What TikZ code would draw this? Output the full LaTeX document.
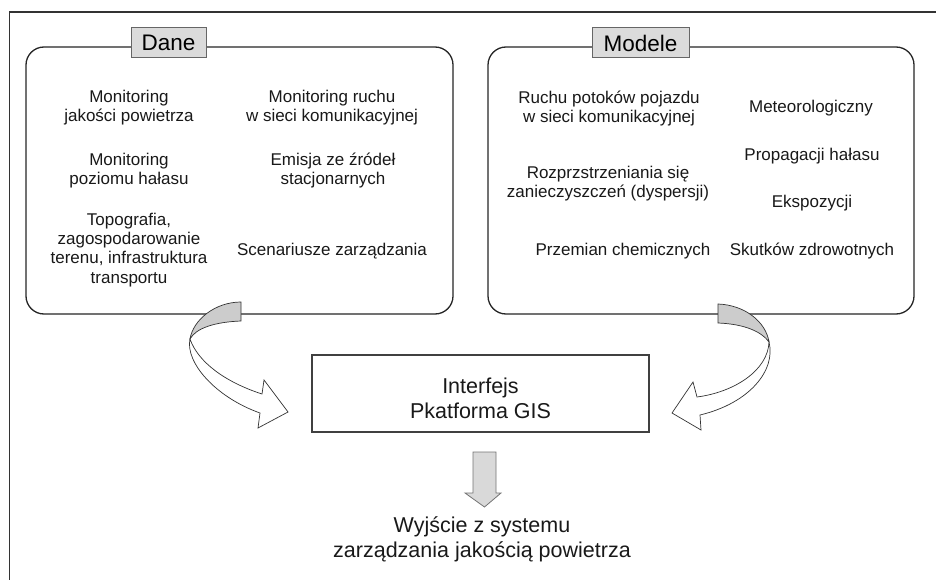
\documentclass[tikz,border=0pt]{standalone}
\usepackage{fontspec}
\setmainfont{Liberation Sans}
\begin{document}
\begin{tikzpicture}[x=1pt,y=-1pt,
  frameline/.style={draw=black!80,line width=1.4pt},
  panel/.style={draw=black!85,line width=1.3pt,rounded corners=18pt,fill=white,inner sep=0pt},
  tag/.style={draw=black!60,line width=1pt,fill=black!14,inner sep=0pt,font=\fontsize{22.5}{25}\selectfont},
  item/.style={align=center,inner sep=0pt,font=\fontsize{17}{19.2}\selectfont,text=black!90},
  big/.style={align=center,inner sep=0pt,font=\fontsize{21.5}{25}\selectfont,text=black!90},
  gisbox/.style={draw=black!75,line width=1.1pt,fill=white,inner sep=0pt,minimum width=337pt,minimum height=77pt},
  twistback/.style={draw=black!80,line width=0.7pt,fill=black!20},
  twistfront/.style={draw=black!80,line width=0.7pt,fill=white},
  downarrow/.style={draw=black!55,line width=0.8pt,fill=black!15}]
\useasboundingbox (0,0) rectangle (936,580);

% open frame: top and left edge only
\draw[frameline] (936,12) -- (9.5,12) -- (9.5,580);

% data panel
\node[panel,minimum width=427pt,minimum height=267pt] (dane) at (239.5,180.5) {};
\node[tag,minimum width=75pt,minimum height=30pt] (danetag) at (168.5,43) {Dane};
\node[item] (d1) at (129,108) {Monitoring\\jakości powietrza};
\node[item] (d2) at (332,108) {Monitoring ruchu\\w sieci komunikacyjnej};
\node[item] (d3) at (129,170.5) {Monitoring\\poziomu hałasu};
\node[item] (d4) at (333,170.5) {Emisja ze źródeł\\stacjonarnych};
\node[item] (d5) at (129,250) {Topografia,\\zagospodarowanie\\terenu, infrastruktura\\transportu};
\node[item] (d6) at (332,251) {Scenariusze zarządzania};

% model panel
\node[panel,minimum width=426pt,minimum height=267pt] (modele) at (701,180.5) {};
\node[tag,minimum width=97pt,minimum height=30pt] (modeletag) at (640.5,43) {Modele};
\node[item] (m1) at (609,108.5) {Ruchu potoków pojazdu\\w sieci komunikacyjnej};
\node[item] (m2) at (811,108.5) {Meteorologiczny};
\node[item] (m3) at (608,184) {Rozprzstrzeniania się\\zanieczyszczeń (dyspersji)};
\node[item] (m4) at (812,156.5) {Propagacji hałasu};
\node[item] (m5) at (812,203) {Ekspozycji};
\node[item] (m6) at (623,251) {Przemian chemicznych};
\node[item] (m7) at (812,251) {Skutków zdrowotnych};

% GIS interface
\node[gisbox] (gis) at (480.5,393.5) {};
\node[big] (gistext) at (480.5,398) {Interfejs\\Pkatforma GIS};

% output
\node[big] (out) at (482,539) {Wyjście z systemu\\zarządzania jakością powietrza};

% twisted ribbon arrow from the data panel
\coordinate (lt) at (190,339);
\draw[twistback] (241,302) .. controls (215,302) and (193,320) .. (lt)
  .. controls (196,328) and (215,322) .. (241,321) -- cycle;
\draw[twistfront] (lt) .. controls (185,362) and (215,397) .. (260,413)
  -- (258,428) -- (288,412) -- (264,380) -- (262,394)
  .. controls (225,382) and (198,362) .. (lt) -- cycle;

% twisted ribbon arrow from the model panel
\coordinate (rt) at (769,342);
\draw[twistback] (718,304) .. controls (745,305) and (766,322) .. (rt)
  .. controls (762,332) and (745,324) .. (718,323) -- cycle;
\draw[twistfront] (rt) .. controls (776,370) and (750,403) .. (700,415)
  -- (701,430) -- (672,413) -- (693,382) -- (697,397)
  .. controls (735,392) and (768,370) .. (rt) -- cycle;

% block arrow down to the output
\draw[downarrow] (473,452) -- (496,452) -- (496,493) -- (501,493)
  -- (484.5,507) -- (465,493) -- (473,493) -- cycle;
\end{tikzpicture}
\end{document}
